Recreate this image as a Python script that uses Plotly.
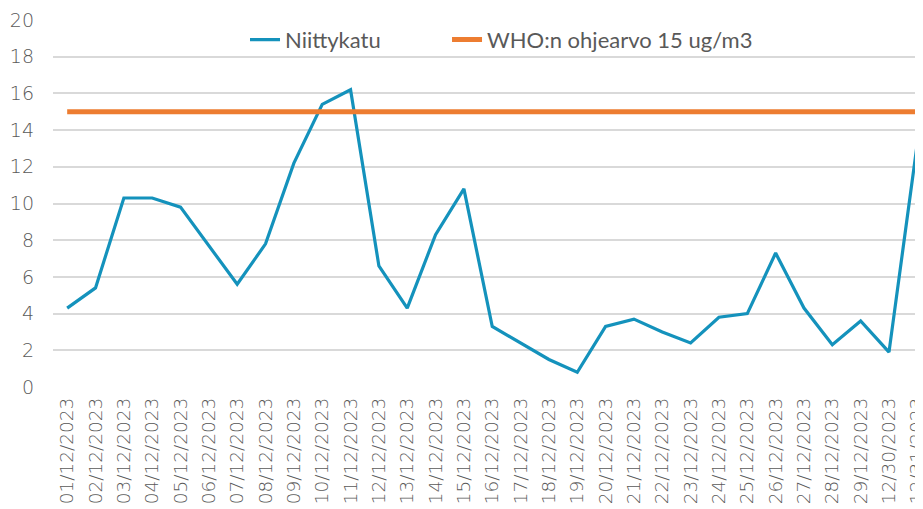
import plotly.graph_objects as go

days = [f"{d:02d}/12/2023" for d in range(1, 30)] + ["12/30/2023", "12/31/2023"]
niittykatu = [4.3, 5.4, 10.3, 10.3, 9.8, 7.7, 5.6, 7.8, 12.2, 15.4, 16.2,
              6.6, 4.3, 8.3, 10.8, 3.3, 2.4, 1.5, 0.8, 3.3, 3.7, 3.0, 2.4,
              3.8, 4.0, 7.3, 4.3, 2.3, 3.6, 1.9, 13.3]
who_guideline = [15] * len(days)
y_ticks = list(range(0, 21, 2))

fig = go.Figure()
fig.add_trace(go.Scatter(x=list(range(len(days))), y=niittykatu, mode="lines",
                         name="Niittykatu", legend="legend",
                         line=dict(color="#1492BC", width=3.2)))
fig.add_trace(go.Scatter(x=list(range(len(days))), y=who_guideline, mode="lines",
                         name="WHO:n ohjearvo 15 ug/m3", legend="legend2",
                         line=dict(color="#ED7D31", width=5)))

legend_font = dict(family="Lato", size=22, color="#595959")
fig.update_layout(
    width=915, height=501,
    margin=dict(l=45, r=0, t=12, b=122),
    paper_bgcolor="white", plot_bgcolor="white",
    showlegend=True,
    legend=dict(orientation="h", x=0.2207, xanchor="left", y=0.946, yanchor="middle",
                bgcolor="rgba(255,255,255,0)", font=legend_font),
    legend2=dict(orientation="h", x=0.4529, xanchor="left", y=0.946, yanchor="middle",
                 bgcolor="rgba(255,255,255,0)", font=legend_font),
    xaxis=dict(range=[-0.5, 30.2], tickmode="array",
               tickvals=list(range(len(days))), ticktext=days,
               tickangle=-90, automargin=False, showgrid=False,
               showline=False, zeroline=False, ticks="", ticklabelstandoff=6,
               ticklabeloverflow="allow",
               tickfont=dict(family="DejaVu Sans", size=18.5, color="#595959", weight=300)),
    yaxis=dict(range=[0, 20], tickvals=y_ticks, showgrid=True,
               gridcolor="#D9D9D9", gridwidth=1.5, zeroline=False,
               showline=False, ticks="", ticklabelstandoff=18,
               automargin=False,
               tickfont=dict(family="DejaVu Sans", size=19, color="#595959", weight=300)),
)

fig.write_html("out.html")
